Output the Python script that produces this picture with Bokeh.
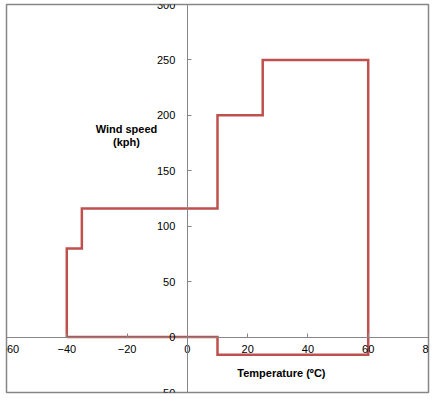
from bokeh.plotting import figure
from bokeh.models import FixedTicker, Label
from bokeh.embed import file_html
from bokeh.resources import INLINE

# Data
temperature = [-40, -40, -35, -35, 10, 10, 25, 25, 60, 60, 10, 10, -40]
wind_speed = [0, 80, 80, 116, 116, 200, 200, 250, 250, -16, -16, 0, 0]
x_ticks = [-60, -40, -20, 0, 20, 40, 60, 80]
y_ticks = [-50, 0, 50, 100, 150, 200, 250, 300]
x_title = "Temperature (ºC)"
y_title = "Wind speed\n(kph)"

p = figure(width=442, height=404, x_range=(-60, 80), y_range=(-50, 300),
           output_backend="svg", toolbar_location=None,
           min_border_left=6, min_border_top=4, min_border_right=14, min_border_bottom=12)
p.grid.visible = False
p.outline_line_color = "#868686"
p.outline_line_width = 1.5
p.background_fill_color = "white"
p.border_fill_color = "white"

for ax, ticks in ((p.xaxis, x_ticks), (p.yaxis, y_ticks)):
    ax.fixed_location = 0
    ax.ticker = FixedTicker(ticks=ticks)
    ax.axis_line_color = "#868686"
    ax.major_tick_line_color = "#868686"
    ax.major_tick_in = 4
    ax.major_tick_out = 0
    ax.minor_tick_line_color = None
    ax.major_label_text_font = "Liberation Sans"
    ax.major_label_text_font_size = "11px"
    ax.major_label_text_color = "#000000"
p.yaxis.major_label_standoff = 12
p.xaxis.major_label_standoff = 8

p.line(temperature, wind_speed, line_color="#C0504D", line_width=2.5, line_join="miter")

p.add_layout(Label(x=-20.2, y=182, text=y_title, text_align="center", text_baseline="middle",
                   text_font="Liberation Sans", text_font_size="11px", text_font_style="bold",
                   text_color="#000000", text_line_height=1.1))
p.add_layout(Label(x=31.2, y=-32.2, text=x_title, text_align="center", text_baseline="middle",
                   text_font="Liberation Sans", text_font_size="11px", text_font_style="bold",
                   text_color="#000000"))

open("out.html", "w").write(file_html(p, INLINE))
